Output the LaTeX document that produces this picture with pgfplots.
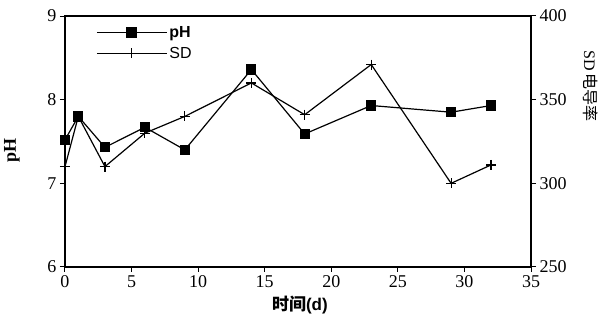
\documentclass[border=0pt]{standalone}
\usepackage{pgfplots}
\pgfplotsset{compat=1.18}
\usepackage{fontspec}
\setmainfont{Liberation Serif}
\newfontfamily\cjk{Noto Sans CJK SC}
\newfontfamily\sansf{Liberation Sans}
\begin{document}
\begin{tikzpicture}
\useasboundingbox (-65pt,-57pt) rectangle (543pt,267pt);
\pgfplotsset{every axis/.append style={
  scale only axis, width=466pt, height=251pt, at={(0pt,0pt)}, anchor=south west,
  xmin=0, xmax=35,
  /pgf/number format/assume math mode=true,
  tick label style={font=\fontsize{18}{18}\selectfont},
  tick align=outside, major tick length=5pt,
  every tick/.style={black, line width=1pt},
}}
\begin{axis}[
  ymin=6, ymax=9, ytick={6,7,8,9},
  xtick={0,5,...,35}, xtick pos=bottom, ytick pos=left,
  axis line style={line width=2pt},
  xlabel={{\cjk\bfseries 时间}{\sansf\bfseries(d)}},
  xlabel style={font=\fontsize{17}{18}\selectfont, at={(axis description cs:0.504,-0.15)}, anchor=center},
  ylabel={\bfseries pH},
  ylabel style={font=\fontsize{18}{18}\selectfont, at={(axis description cs:-0.114,0.466)}, anchor=center},
]
\addplot[black, line width=1.2pt, mark=square*, mark size=4.5pt] coordinates {
(0,7.52)(1,7.8)(3,7.43)(6,7.67)(9,7.4)(14,8.36)(18,7.59)(23,7.93)(29,7.85)(32,7.93)};
\end{axis}
\begin{axis}[
  ymin=250, ymax=400, ytick={250,300,350,400},
  axis x line=none, axis y line*=right,
  axis line style={line width=2pt},
  ylabel={SD\,{\cjk 电导率}},
  ylabel style={font=\fontsize{16}{18}\selectfont, rotate=180, at={(axis description cs:1.127,0.72)}, anchor=center},
  legend style={at={(axis description cs:0.06,0.975)}, anchor=north west, draw=none, fill=none,
    font=\sansf\fontsize{16}{18}\selectfont, row sep=4pt},
  legend cell align=left,
  legend image code/.code={\draw[mark repeat=2,mark phase=2,#1] plot coordinates {(0pt,0pt) (35pt,0pt) (70pt,0pt)};},
]
\addlegendimage{black, line width=1.2pt, mark=square*, mark size=5pt}
\addlegendentry{\bfseries pH}
\addplot[black, line width=1.2pt, mark=+, mark size=5pt, mark options={line width=1.2pt}] coordinates {
(0,310)(1,340)(3,310)(6,330)(9,340)(14,360)(18,341)(23,371)(29,300)(32,311)};
\addlegendentry{SD}
\end{axis}
\end{tikzpicture}
\end{document}
